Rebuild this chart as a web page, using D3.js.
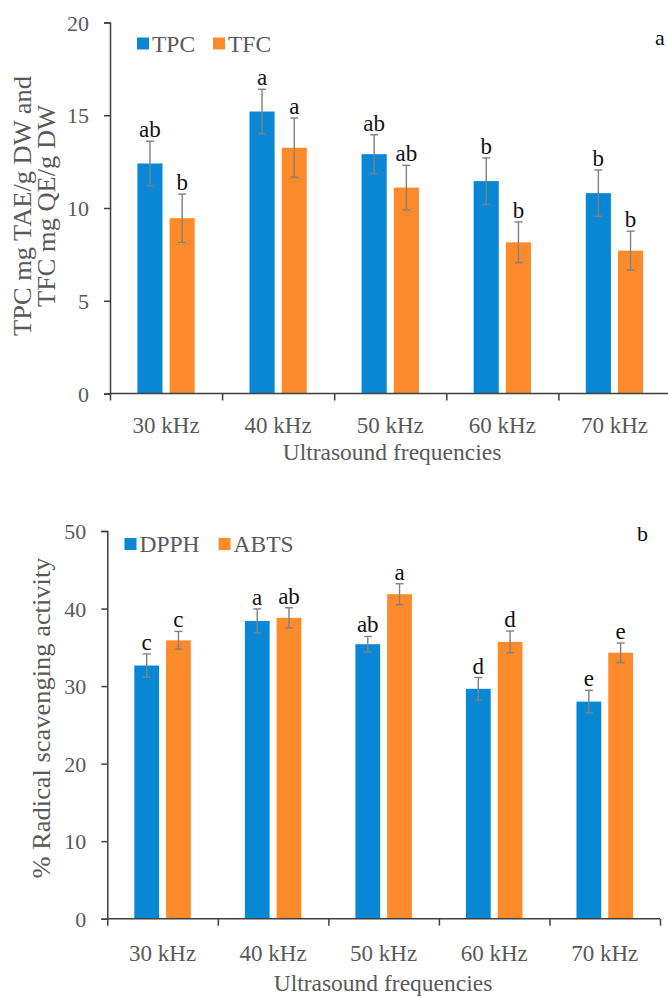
<!DOCTYPE html>
<html>
<head>
<meta charset="utf-8">
<script src="https://cdn.jsdelivr.net/npm/d3@7"></script>
<style>
  html, body { margin: 0; padding: 0; background: #fff; }
  svg { display: block; }
  text { font-family: "Liberation Serif", "Times New Roman", serif; }
</style>
</head>
<body>
<svg id="chart" width="668" height="998"></svg>
<script>
// Shared categories
const frequencies = ["30 kHz", "40 kHz", "50 kHz", "60 kHz", "70 kHz"];

// Panel a: phenolic and flavonoid content
const phenolSeries = ["TPC", "TFC"];
const tpcValues = [12.4, 15.2, 12.9, 11.45, 10.8];
const tpcErrors = [1.2, 1.2, 1.05, 1.25, 1.25];
const tpcLetters = ["ab", "a", "ab", "b", "b"];
const tfcValues = [9.45, 13.25, 11.1, 8.15, 7.7];
const tfcErrors = [1.3, 1.6, 1.2, 1.1, 1.05];
const tfcLetters = ["b", "a", "ab", "b", "b"];
const phenolTicks = [0, 5, 10, 15, 20];

// Panel b: radical scavenging activity
const radicalSeries = ["DPPH", "ABTS"];
const dpphValues = [32.65, 38.4, 35.4, 29.65, 28.0];
const dpphErrors = [1.5, 1.55, 1.0, 1.45, 1.45];
const dpphLetters = ["c", "a", "ab", "d", "e"];
const abtsValues = [35.9, 38.8, 41.85, 35.7, 34.3];
const abtsErrors = [1.15, 1.3, 1.35, 1.4, 1.25];
const abtsLetters = ["c", "ab", "a", "d", "e"];
const radicalTicks = [0, 10, 20, 30, 40, 50];

const colors = ["#0787d4", "#fd8b2b"];
const grayText = "#595959";
const axisColor = "#404040";
const errColor = "#808080";

const svg = d3.select("#chart");

function drawPanel(cfg) {
  const g = svg.append("g");
  const x = d3.scaleBand().domain(frequencies).range([cfg.left, cfg.right]).padding(0);
  const xs = d3.scaleBand().domain(cfg.series).range([0, x.step()])
    .paddingInner(0.22).paddingOuter(0.85);
  const y = d3.scaleLinear().domain([0, cfg.max]).range([cfg.bottom, cfg.top]);

  const rows = [];
  frequencies.forEach((f, i) => {
    cfg.series.forEach((s, j) => {
      rows.push({ f, s, j, v: cfg.values[j][i], e: cfg.errors[j][i], lab: cfg.letters[j][i] });
    });
  });

  // Bars
  g.selectAll("rect.bar").data(rows).join("rect")
    .attr("class", "bar")
    .attr("x", d => x(d.f) + xs(d.s))
    .attr("width", xs.bandwidth())
    .attr("y", d => y(d.v))
    .attr("height", d => y(0) - y(d.v))
    .attr("fill", d => colors[d.j]);

  // Error bars
  const cx = d => x(d.f) + xs(d.s) + xs.bandwidth() / 2;
  const eb = g.selectAll("g.err").data(rows).join("g").attr("class", "err")
    .attr("stroke", errColor).attr("stroke-width", 1.4);
  eb.append("line").attr("x1", cx).attr("x2", cx)
    .attr("y1", d => y(d.v + d.e)).attr("y2", d => y(d.v - d.e));
  eb.append("line").attr("x1", d => cx(d) - 4).attr("x2", d => cx(d) + 4)
    .attr("y1", d => y(d.v + d.e)).attr("y2", d => y(d.v + d.e));
  eb.append("line").attr("x1", d => cx(d) - 4).attr("x2", d => cx(d) + 4)
    .attr("y1", d => y(d.v - d.e)).attr("y2", d => y(d.v - d.e));

  // Significance letters
  g.selectAll("text.sig").data(rows).join("text")
    .attr("class", "sig")
    .attr("x", cx)
    .attr("y", d => y(d.v + d.e) - 4)
    .attr("text-anchor", "middle")
    .attr("font-size", 23)
    .attr("fill", "#111")
    .text(d => d.lab);

  // Y axis
  const yAxis = g.append("g").attr("transform", `translate(${cfg.left},0)`)
    .call(d3.axisLeft(y).tickValues(cfg.ticks).tickSize(6).tickPadding(15).tickFormat(d3.format("d")));
  yAxis.selectAll("path, line").attr("stroke", axisColor).attr("stroke-width", 1.5);
  yAxis.selectAll("text").attr("font-size", 22).attr("fill", grayText)
    .attr("font-family", "Liberation Serif, serif").attr("dy", "0.35em");

  // X axis: tick marks at category boundaries, labels at category centres
  const xb = d3.scaleLinear().domain([0, frequencies.length]).range([cfg.left, cfg.right]);
  const xTicks = g.append("g").attr("transform", `translate(0,${cfg.bottom})`)
    .call(d3.axisBottom(xb).tickValues(d3.range(frequencies.length + 1)).tickSize(7).tickFormat(""));
  xTicks.selectAll("path, line").attr("stroke", axisColor).attr("stroke-width", 1.5);
  xTicks.select("path.domain").attr("d", `M${cfg.left},0H${cfg.right}`);

  const xLabels = g.append("g").attr("transform", `translate(0,${cfg.bottom})`)
    .call(d3.axisBottom(x).tickSize(0).tickPadding(cfg.labelPad));
  xLabels.select("path.domain").remove();
  xLabels.selectAll("text").attr("font-size", 23).attr("fill", grayText)
    .attr("font-family", "Liberation Serif, serif");

  // X title
  g.append("text")
    .attr("x", cfg.xTitleX).attr("y", cfg.xTitleY)
    .attr("text-anchor", "middle").attr("font-size", 23.5).attr("fill", grayText)
    .text("Ultrasound frequencies");

  // Y title (slightly elongated along its reading direction)
  const yt = g.append("text")
    .attr("transform", `translate(0,${cfg.yTitleCenter}) scale(1,1.08) rotate(-90)`)
    .attr("text-anchor", "middle").attr("font-size", 24.5).attr("fill", grayText);
  cfg.yTitle.forEach((line, i) => {
    yt.append("tspan").attr("x", 0).attr("y", cfg.yTitleX[i]).text(line);
  });

  // Legend
  const lg = g.append("g");
  cfg.series.forEach((s, j) => {
    lg.append("rect")
      .attr("x", cfg.legendX[j]).attr("y", cfg.legendY - 6)
      .attr("width", 12).attr("height", 12).attr("fill", colors[j]);
    lg.append("text")
      .attr("x", cfg.legendX[j] + 15).attr("y", cfg.legendY + 8)
      .attr("font-size", 23.5).attr("fill", grayText).text(s);
  });

  // Panel letter
  g.append("text").attr("x", cfg.panelX).attr("y", cfg.panelY)
    .attr("font-size", 22).attr("fill", "#111").text(cfg.panel);
}

drawPanel({
  series: phenolSeries,
  values: [tpcValues, tfcValues],
  errors: [tpcErrors, tfcErrors],
  letters: [tpcLetters, tfcLetters],
  ticks: phenolTicks,
  max: 20,
  left: 110, right: 670.5, top: 22.5, bottom: 393.5,
  labelPad: 23,
  xTitleX: 392, xTitleY: 460,
  yTitle: ["TPC mg TAE/g DW and", "TFC mg QE/g DW"],
  yTitleX: [31, 55], yTitleCenter: 206,
  legendX: [137, 213], legendY: 43.5,
  panel: "a", panelX: 655, panelY: 45
});

drawPanel({
  series: radicalSeries,
  values: [dpphValues, abtsValues],
  errors: [dpphErrors, abtsErrors],
  letters: [dpphLetters, abtsLetters],
  ticks: radicalTicks,
  max: 50,
  left: 107.3, right: 660, top: 531, bottom: 918.7,
  labelPad: 26,
  xTitleX: 383, xTitleY: 991,
  yTitle: ["% Radical scavenging activity"],
  yTitleX: [50], yTitleCenter: 718,
  legendX: [124.5, 218.5], legendY: 544,
  panel: "b", panelX: 637, panelY: 541
});
</script>
</body>
</html>
